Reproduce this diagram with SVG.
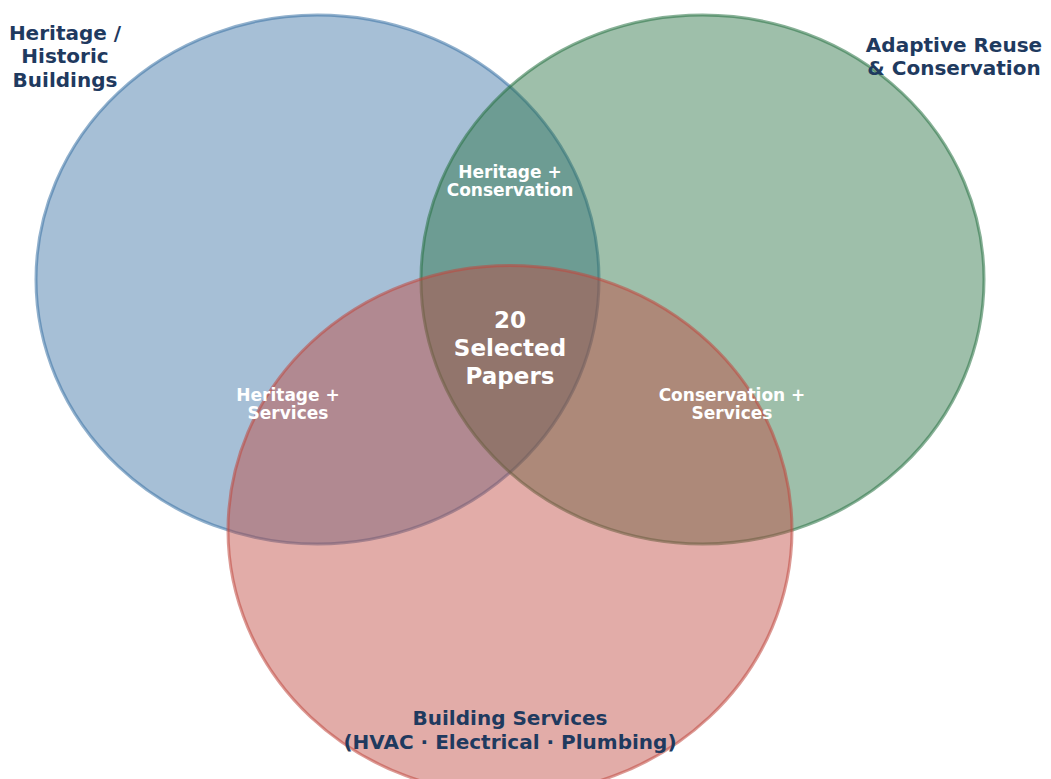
<svg xmlns="http://www.w3.org/2000/svg" width="1051" height="779" viewBox="0 0 1051 779">
<style>
.set{stroke-width:3}
.title{font-family:"DejaVu Sans",sans-serif;font-weight:bold;font-size:20px;fill:#1f3a5f;text-anchor:middle}
.lab{font-family:"DejaVu Sans",sans-serif;font-weight:bold;font-size:17px;fill:#ffffff;text-anchor:middle}
.core{font-family:"DejaVu Sans",sans-serif;font-weight:bold;font-size:23px;fill:#ffffff;text-anchor:middle}
</style>
<rect width="1051" height="779" fill="#ffffff"/>
<g id="heritage">
<ellipse class="set" cx="317.5" cy="279.5" rx="281.5" ry="264.5" fill="#3971a4" fill-opacity="0.45" stroke="#3971a4" stroke-opacity="0.55"/>
</g>
<g id="conservation">
<ellipse class="set" cx="702.5" cy="279.5" rx="281.5" ry="264.5" fill="#277142" fill-opacity="0.45" stroke="#277142" stroke-opacity="0.55"/>
</g>
<g id="services">
<ellipse class="set" cx="510" cy="530" rx="282" ry="264.5" fill="#bf473e" fill-opacity="0.45" stroke="#bf473e" stroke-opacity="0.55"/>
</g>
<g id="labels">
<text class="title" x="65" y="40">Heritage /</text>
<text class="title" x="65" y="63">Historic</text>
<text class="title" x="65" y="87">Buildings</text>
<text class="title" x="954" y="52">Adaptive Reuse</text>
<text class="title" x="954" y="75">&amp; Conservation</text>
<text class="title" x="510" y="725">Building Services</text>
<text class="title" x="510" y="749">(HVAC · Electrical · Plumbing)</text>
<text class="lab" x="510" y="178">Heritage +</text>
<text class="lab" x="510" y="196">Conservation</text>
<text class="lab" x="288" y="401">Heritage +</text>
<text class="lab" x="288" y="419">Services</text>
<text class="lab" x="732" y="401">Conservation +</text>
<text class="lab" x="732" y="419">Services</text>
<text class="core" x="510" y="328">20</text>
<text class="core" x="510" y="356">Selected</text>
<text class="core" x="510" y="384">Papers</text>
</g>
<g id="connectors"></g>
</svg>
